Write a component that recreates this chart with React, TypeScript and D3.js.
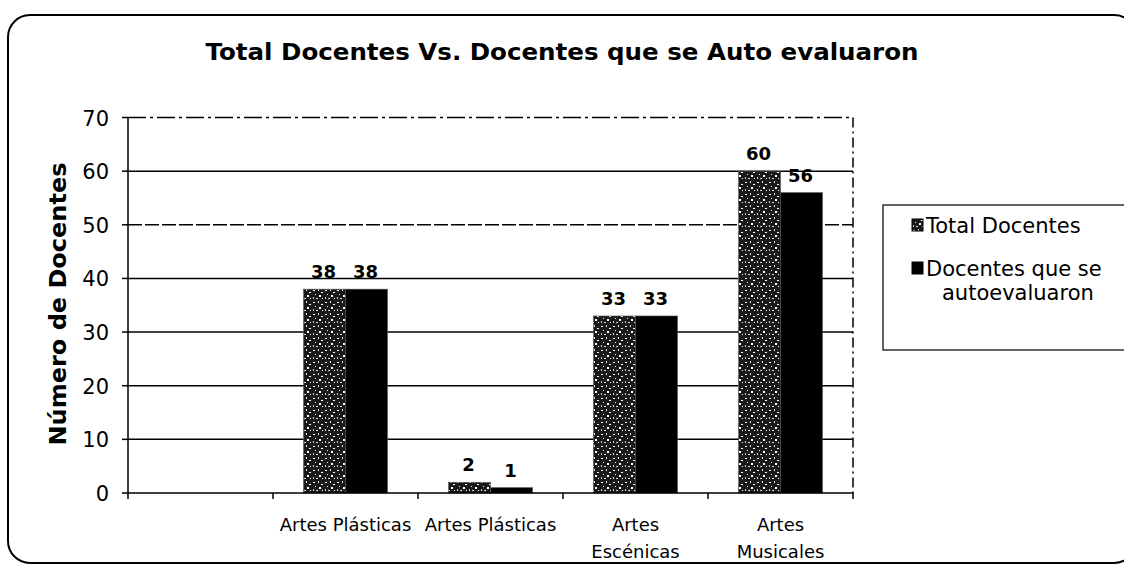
import React from "react";
import * as d3 from "d3";

const categories: string[][] = [[""], ["Artes Plásticas"], ["Artes Plásticas"], ["Artes", "Escénicas"], ["Artes", "Musicales"]];
const totalDocentes: (number | null)[] = [null, 38, 2, 33, 60];
const autoevaluados: (number | null)[] = [null, 38, 1, 33, 56];
const seriesNames = ["Total Docentes", "Docentes que se autoevaluaron"];
const yTicks = [0, 10, 20, 30, 40, 50, 60, 70];

const W = 1124, H = 564;
const FONT = "'DejaVu Sans', Verdana, sans-serif";

export default function App() {
  const x = d3.scaleBand<number>().domain(categories.map((_, i) => i)).range([128, 853]).padding(0);
  const bw = x.bandwidth();
  const inner = d3.scaleBand<number>().domain([0, 1]).range([0, bw]).paddingInner(0).paddingOuter((bw / 42 - 2) / 2);
  const y = d3.scaleLinear().domain([0, 70]).range([493, 117.5]);
  const series = [totalDocentes, autoevaluados];
  const fills = ["url(#speckle)", "#000"];
  const [x0, x1] = x.range();

  return (
    <svg width={W} height={H} style={{ position: "absolute", left: 0, top: 0, background: "#fff" }}>
      <defs>
        <pattern id="speckle" width="12" height="12" patternUnits="userSpaceOnUse">
          <rect width="12" height="12" fill="#1a1a1a" />
          <rect x="1" y="2" width="2" height="1" fill="#fff" />
          <rect x="6" y="1" width="1" height="2" fill="#ddd" />
          <rect x="9" y="4" width="2" height="1" fill="#fff" />
          <rect x="3" y="6" width="1" height="1" fill="#eee" />
          <rect x="7" y="7" width="2" height="2" fill="#fff" />
          <rect x="1" y="9" width="1" height="2" fill="#ccc" />
          <rect x="10" y="10" width="1" height="1" fill="#fff" />
          <rect x="4" y="10" width="2" height="1" fill="#ddd" />
        </pattern>
      </defs>

      <rect x={8} y={15} width={1128} height={548} rx={22} ry={22} fill="none" stroke="#000" strokeWidth={2} />

      <text x={562} y={60} textAnchor="middle" fontFamily={FONT} fontWeight="bold" fontSize={23}
        textLength={713} lengthAdjust="spacingAndGlyphs">Total Docentes Vs. Docentes que se Auto evaluaron</text>

      {/* gridlines */}
      {yTicks.filter(t => t > 0 && t < 70).map(t => (
        <line key={t} x1={x0} x2={x1} y1={y(t)} y2={y(t)} stroke="#000" strokeWidth={1.5}
          strokeDasharray={t === 50 ? "14 3" : undefined} />
      ))}
      <line x1={x0} x2={x1} y1={y(70)} y2={y(70)} stroke="#000" strokeWidth={1.5} strokeDasharray="18 4 3 4" />
      <line x1={x1} x2={x1} y1={y(70)} y2={y(0)} stroke="#000" strokeWidth={1.5} strokeDasharray="10 4 2 4" />

      {/* bars */}
      {series.map((vals, s) =>
        vals.map((v, i) => v == null ? null : (
          <rect key={`${s}-${i}`} x={(x(i) as number) + (inner(s) as number)} y={y(v)} width={inner.bandwidth()}
            height={y(0) - y(v)} fill={fills[s]} stroke="#555" strokeWidth={0.6} />
        ))
      )}

      {/* data labels */}
      {series.map((vals, s) =>
        vals.map((v, i) => v == null ? null : (
          <text key={`l${s}-${i}`} x={(x(i) as number) + (inner(s) as number) + inner.bandwidth() / 2 - 1} y={y(v) - 11}
            textAnchor="middle" fontFamily={FONT} fontWeight="bold" fontSize={18}>{v}</text>
        ))
      )}

      {/* axes */}
      <line x1={x0} x2={x0} y1={y(70)} y2={y(0)} stroke="#000" strokeWidth={1.5} />
      <line x1={x0} x2={x1} y1={y(0)} y2={y(0)} stroke="#000" strokeWidth={1.5} />
      {yTicks.map(t => (
        <g key={t}>
          <line x1={x0 - 6} x2={x0} y1={y(t)} y2={y(t)} stroke="#000" strokeWidth={1.5} />
          <text x={109} y={y(t) + 8} textAnchor="end" fontFamily={FONT} fontSize={21}>{t}</text>
        </g>
      ))}
      {categories.map((_, i) => (
        <line key={i} x1={x(i)} x2={x(i)} y1={y(0)} y2={y(0) + 6} stroke="#000" strokeWidth={1.5} />
      ))}
      <line x1={x1} x2={x1} y1={y(0)} y2={y(0) + 6} stroke="#000" strokeWidth={1.5} />
      {categories.map((lines, i) => (
        <text key={`c${i}`} x={(x(i) as number) + bw / 2} y={531} textAnchor="middle" fontFamily={FONT} fontSize={18}>
          {lines.map((l, k) => <tspan key={k} x={(x(i) as number) + bw / 2} dy={k === 0 ? 0 : 27}>{l}</tspan>)}
        </text>
      ))}

      <text transform="translate(66,304) rotate(-90)" textAnchor="middle" fontFamily={FONT} fontWeight="bold" fontSize={23}
        textLength={283} lengthAdjust="spacingAndGlyphs">Número de Docentes</text>

      {/* legend */}
      <rect x={883} y={205} width={250} height={145} fill="#fff" stroke="#000" strokeWidth={1.2} />
      <rect x={912} y={219} width={11} height={12} fill="url(#speckle)" stroke="#000" strokeWidth={1} />
      <text x={926} y={233} fontFamily={FONT} fontSize={21}>{seriesNames[0]}</text>
      <rect x={912} y={262} width={11} height={12} fill="#000" stroke="#000" strokeWidth={1} />
      <text x={926} y={276} fontFamily={FONT} fontSize={21}>Docentes que se</text>
      <text x={942} y={300} fontFamily={FONT} fontSize={21}>autoevaluaron</text>
    </svg>
  );
}
